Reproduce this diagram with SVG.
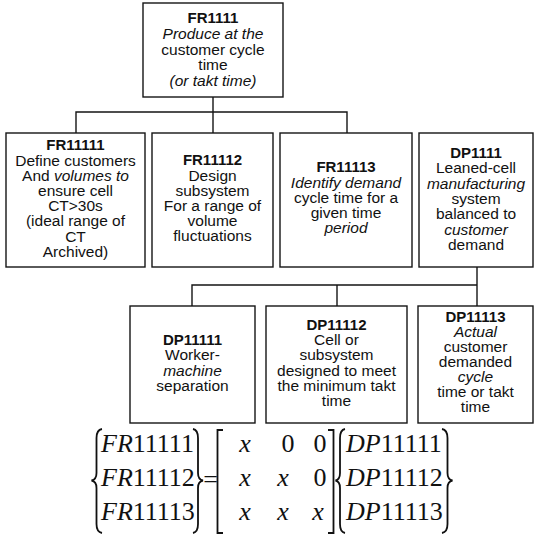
<svg xmlns="http://www.w3.org/2000/svg" width="534" height="536" viewBox="0 0 534 536">
  <style>
    .box { fill: #fff; stroke: #141414; stroke-width: 1.4; }
    .wire { fill: none; stroke: #141414; stroke-width: 1.4; }
    .t { font-family: "Liberation Sans", Arial, sans-serif; font-size: 15.5px; fill: #111; text-anchor: middle; }
    .b { font-family: "Liberation Sans", Arial, sans-serif; font-size: 15px; font-weight: bold; fill: #111; text-anchor: middle; }
    .i { font-style: italic; }
    .m { font-family: "Liberation Serif", "Times New Roman", serif; font-size: 26px; fill: #111; }
    .mc { text-anchor: middle; }
    .delim { fill: none; stroke: #111; stroke-width: 1.8; }
  </style>

  <!-- tree connectors -->
  <g id="connectors">
    <path class="wire" d="M213 97 V133"/>
    <path class="wire" d="M76 133 V112 H347 V133"/>
    <path class="wire" d="M477 267 V306"/>
    <path class="wire" d="M192 306 V285 H477"/>
    <path class="wire" d="M337 285 V306"/>
  </g>

  <g id="FR1111">
    <rect class="box" x="143" y="3" width="140" height="94"/>
    <text class="b" x="213" y="23">FR1111</text>
    <text class="t" x="213" y="39"><tspan class="i">Produce at the</tspan><tspan x="213" dy="15.5">customer cycle</tspan><tspan x="213" dy="15.5">time</tspan><tspan x="213" dy="15.5" class="i">(or takt time)</tspan></text>
  </g>

  <g id="FR11111">
    <rect class="box" x="6" y="133" width="139" height="134"/>
    <text class="b" x="75.5" y="150">FR11111</text>
    <text class="t" x="75.5" y="165.5">Define customers<tspan x="75.5" dy="15.2">And <tspan class="i">volumes to</tspan></tspan><tspan x="75.5" dy="15.2">ensure cell</tspan><tspan x="75.5" dy="15.2">CT&gt;30s</tspan><tspan x="75.5" dy="15.2">(ideal range of</tspan><tspan x="75.5" dy="15.2">CT</tspan><tspan x="75.5" dy="15.2">Archived)</tspan></text>
  </g>

  <g id="FR11112">
    <rect class="box" x="152" y="133" width="121" height="134"/>
    <text class="b" x="212.5" y="165">FR11112</text>
    <text class="t" x="212.5" y="180.5">Design<tspan x="212.5" dy="15.2">subsystem</tspan><tspan x="212.5" dy="15.2">For a range of</tspan><tspan x="212.5" dy="15.2">volume</tspan><tspan x="212.5" dy="15.2">fluctuations</tspan></text>
  </g>

  <g id="FR11113">
    <rect class="box" x="280" y="133" width="132" height="134"/>
    <text class="b" x="346" y="172">FR11113</text>
    <text class="t" x="346" y="187.5"><tspan class="i">Identify demand</tspan><tspan x="346" dy="15.2">cycle time for a</tspan><tspan x="346" dy="15.2">given time</tspan><tspan x="346" dy="15.2" class="i">period</tspan></text>
  </g>

  <g id="DP1111">
    <rect class="box" x="419" y="133" width="114" height="134"/>
    <text class="b" x="476" y="158">DP1111</text>
    <text class="t" x="476" y="173.3">Leaned-cell<tspan x="476" dy="15.3" class="i">manufacturing</tspan><tspan x="476" dy="15.3">system</tspan><tspan x="476" dy="15.3">balanced to</tspan><tspan x="476" dy="15.3" class="i">customer</tspan><tspan x="476" dy="15.3">demand</tspan></text>
  </g>

  <g id="DP11111">
    <rect class="box" x="130" y="306" width="125" height="117"/>
    <text class="b" x="192.5" y="345">DP11111</text>
    <text class="t" x="192.5" y="360.3">Worker-<tspan x="192.5" dy="15.3" class="i">machine</tspan><tspan x="192.5" dy="15.3">separation</tspan></text>
  </g>

  <g id="DP11112">
    <rect class="box" x="266" y="306" width="141" height="117"/>
    <text class="b" x="336.5" y="330">DP11112</text>
    <text class="t" x="336.5" y="345.2">Cell or<tspan x="336.5" dy="15.2">subsystem</tspan><tspan x="336.5" dy="15.2">designed to meet</tspan><tspan x="336.5" dy="15.2">the minimum takt</tspan><tspan x="336.5" dy="15.2">time</tspan></text>
  </g>

  <g id="DP11113">
    <rect class="box" x="418" y="306" width="115" height="117"/>
    <text class="b" x="475.5" y="321.5">DP11113</text>
    <text class="t" x="475.5" y="336.5"><tspan class="i">Actual</tspan><tspan x="475.5" dy="15">customer</tspan><tspan x="475.5" dy="15">demanded</tspan><tspan x="475.5" dy="15" class="i">cycle</tspan><tspan x="475.5" dy="15">time or takt</tspan><tspan x="475.5" dy="15">time</tspan></text>
  </g>

  <!-- design matrix equation -->
  <g id="equation">
    <path class="delim" d="M102 429 Q96.5 430 96.5 438 L96.5 473 Q96.5 479.5 91.5 480.5 Q96.5 481.5 96.5 488 L96.5 524 Q96.5 532 102 533"/>
    <text class="m" x="101" y="452"><tspan class="i">FR</tspan>11111</text>
    <text class="m" x="101" y="486"><tspan class="i">FR</tspan>11112</text>
    <text class="m" x="101" y="520"><tspan class="i">FR</tspan>11113</text>
    <path class="delim" d="M193 429 Q198 430 198 438 L198 473 Q198 479.5 203 480.5 Q198 481.5 198 488 L198 524 Q198 532 193 533"/>

    <text class="m mc" x="210.5" y="488">=</text>

    <path class="delim" d="M223 430 H217.5 V533 H223"/>
    <text class="m mc i" x="245" y="452">x</text>
    <text class="m mc" x="288" y="452">0</text>
    <text class="m mc" x="320" y="452">0</text>
    <text class="m mc i" x="245" y="486">x</text>
    <text class="m mc i" x="283" y="486">x</text>
    <text class="m mc" x="320" y="486">0</text>
    <text class="m mc i" x="245" y="520">x</text>
    <text class="m mc i" x="283" y="520">x</text>
    <text class="m mc i" x="318" y="520">x</text>
    <path class="delim" d="M328 430 H333.5 V533 H328"/>

    <path class="delim" d="M345 429 Q340 430 340 438 L340 473 Q340 479.5 335.5 480.5 Q340 481.5 340 488 L340 524 Q340 532 345 533"/>
    <text class="m" x="346" y="452"><tspan class="i">DP</tspan>11111</text>
    <text class="m" x="346" y="486"><tspan class="i">DP</tspan>11112</text>
    <text class="m" x="346" y="520"><tspan class="i">DP</tspan>11113</text>
    <path class="delim" d="M442 429 Q447.5 430 447.5 438 L447.5 473 Q447.5 479.5 452.5 480.5 Q447.5 481.5 447.5 488 L447.5 524 Q447.5 532 442 533"/>
  </g>
</svg>
